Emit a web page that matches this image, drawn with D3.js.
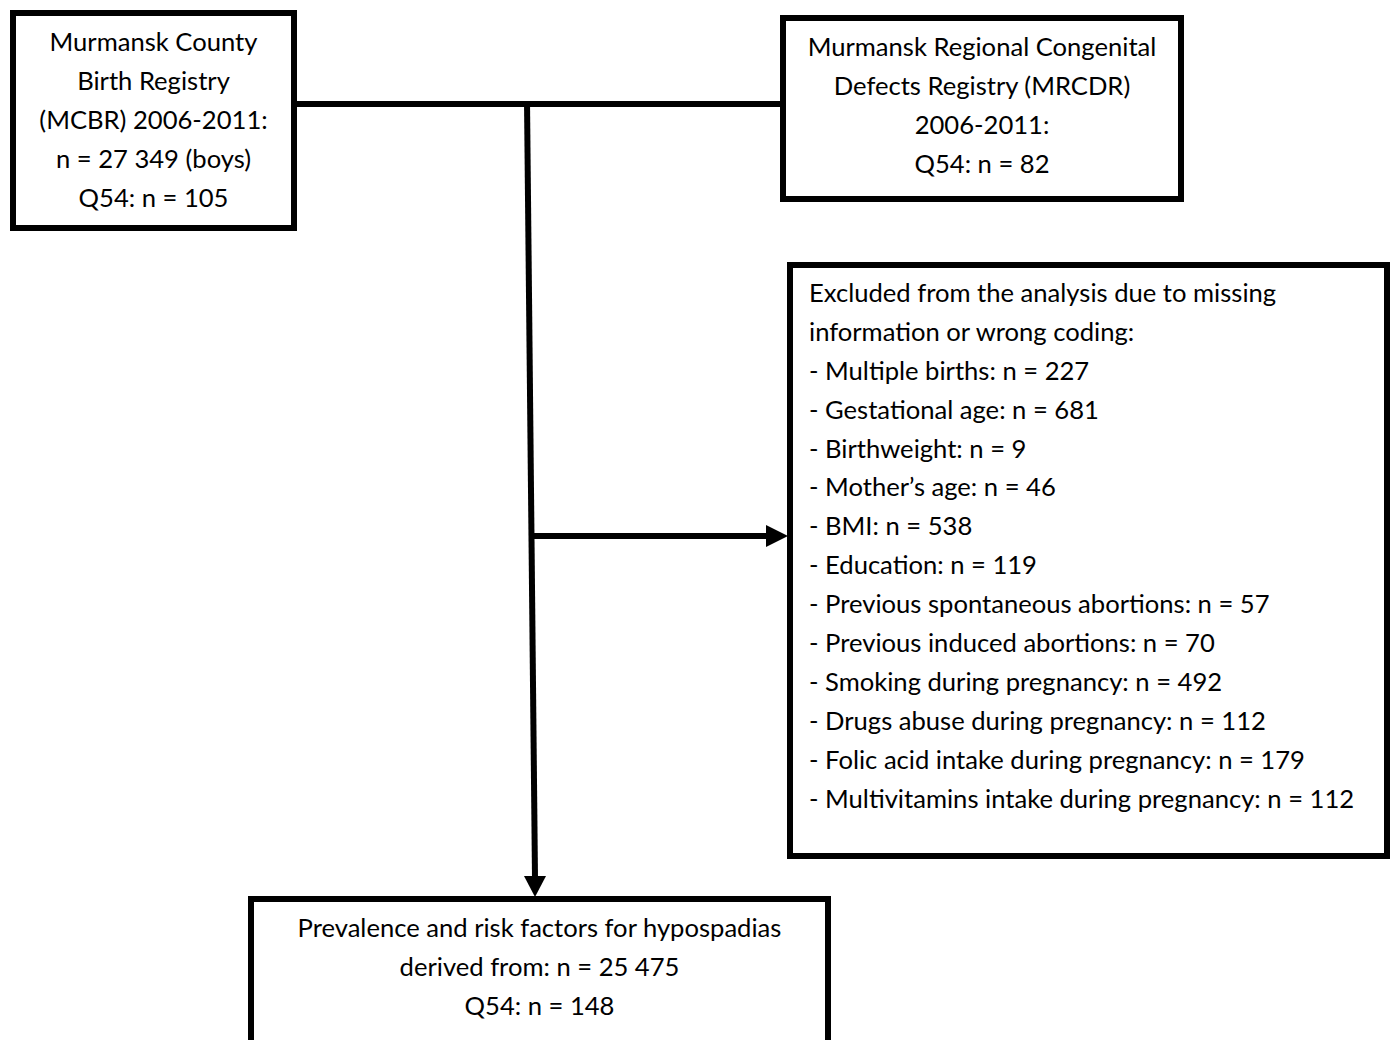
<!DOCTYPE html>
<meta charset="utf-8">
<style>
    body { margin: 0; background: #fff; }
    svg { display: block; }
    text { font-family: Lato, "Open Sans", sans-serif; fill: #000; }
</style>
<svg id="chart"></svg>
<script src="https://cdn.jsdelivr.net/npm/d3@7"></script>
<script>
    // chart data
    var birthRegistry = ["Murmansk County", "Birth Registry", "(MCBR) 2006-2011:", "n = 27 349 (boys)", "Q54: n = 105"];
    var defectsRegistry = ["Murmansk Regional Congenital", "Defects Registry (MRCDR)", "2006-2011:", "Q54: n = 82"];
    var excludedHeader = ["Excluded from the analysis due to missing", "information or wrong coding:"];
    var excludedLabels = ["Multiple births", "Gestational age", "Birthweight", "Mother\u2019s age", "BMI", "Education",
        "Previous spontaneous abortions", "Previous induced abortions", "Smoking during pregnancy",
        "Drugs abuse during pregnancy", "Folic acid intake during pregnancy", "Multivitamins intake during pregnancy"];
    var excludedCounts = [227, 681, 9, 46, 538, 119, 57, 70, 492, 112, 179, 112];
    var finalSample = ["Prevalence and risk factors for hypospadias", "derived from: n = 25 475", "Q54: n = 148"];

    var width = 1390, height = 1040;
    var svg = d3.select("#chart").attr("width", width).attr("height", height);

    var lineH = 38.9, fontSize = 25.6, stroke = 6;

    var boxes = [
        { x0: 10, y0: 10, x1: 297, y1: 231, lines: birthRegistry, align: "middle", top: 42 },
        { x0: 780, y0: 15, x1: 1184, y1: 202, lines: defectsRegistry, align: "middle", top: 47 },
        { x0: 787, y0: 262, x1: 1390, y1: 859, align: "start", top: 293,
          lines: excludedHeader.concat(excludedLabels.map((l, i) => "- " + l + ": n = " + excludedCounts[i])) },
        { x0: 248, y0: 896, x1: 831, y1: 1060, lines: finalSample, align: "middle", top: 928 }
    ];

    // connectors
    var g = svg.append("g").attr("stroke", "#000").attr("stroke-width", stroke).attr("fill", "none");
    g.append("line").attr("x1", 297).attr("y1", 104).attr("x2", 780).attr("y2", 104);
    g.append("line").attr("x1", 527).attr("y1", 101).attr("x2", 535).attr("y2", 878);
    g.append("line").attr("x1", 532).attr("y1", 536).attr("x2", 768).attr("y2", 536);

    svg.append("path").attr("d", d3.line()([[766, 525], [788, 536], [766, 547]])).attr("fill", "#000");
    svg.append("path").attr("d", d3.line()([[524, 876], [535, 897], [546, 876]])).attr("fill", "#000");

    boxes.forEach(b => {
        svg.append("rect")
            .attr("x", b.x0 + stroke / 2).attr("y", b.y0 + stroke / 2)
            .attr("width", b.x1 - b.x0 - stroke).attr("height", b.y1 - b.y0 - stroke)
            .attr("fill", "#fff").attr("stroke", "#000").attr("stroke-width", stroke);

        var y = d3.scaleLinear().domain([0, 1]).range([b.top, b.top + lineH]);
        var tx = b.align === "middle" ? (b.x0 + b.x1) / 2 : b.x0 + 22;
        svg.append("g").selectAll("text").data(b.lines).join("text")
            .attr("x", tx)
            .attr("y", (d, i) => y(i))
            .attr("dy", "0.35em")
            .attr("text-anchor", b.align)
            .attr("font-size", fontSize)
            .text(d => d);
    });
</script>
